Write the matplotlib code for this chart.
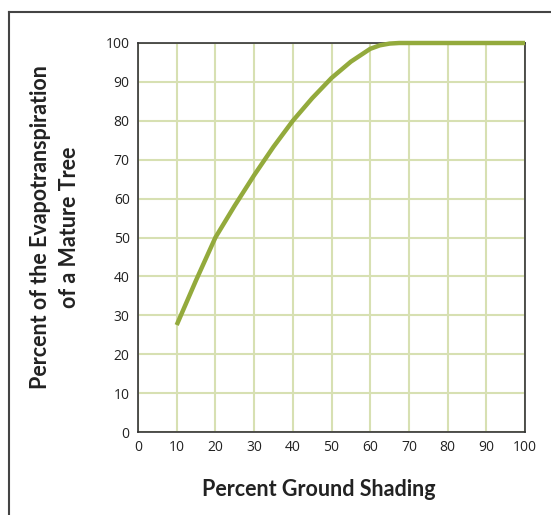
import matplotlib
matplotlib.use("Agg")
import matplotlib.pyplot as plt
from matplotlib.lines import Line2D

shading = [10, 15, 20, 25, 30, 35, 40, 45, 50, 55, 60, 62.5, 65, 67.5, 70, 80, 90, 100]
evapo = [27.5, 39, 50, 58.2, 66, 73.3, 80, 85.8, 91, 95.2, 98.5, 99.4, 99.85, 100, 100, 100, 100, 100]
xticks = list(range(0, 101, 10))
yticks = list(range(0, 101, 10))

plt.rcParams['font.family'] = ['Open Sans', 'DejaVu Sans']

fig = plt.figure(figsize=(5.51, 5.15), dpi=100)
ax = fig.add_axes([138/551, 1-432/515, (525-138)/551, (432-43)/515])

ax.plot(shading, evapo, color='#93aa3c', lw=3.2, solid_capstyle='butt', solid_joinstyle='round',
        zorder=3, clip_on=False)
ax.set_xlim(0, 100)
ax.set_ylim(0, 100)
ax.set_xticks(xticks)
ax.set_yticks(yticks)
ax.grid(True, color='#d7e0b2', lw=1.5, zorder=0)
ax.set_axisbelow(True)
ax.tick_params(length=0, labelsize=10, colors='#222222', pad=6)
for s in ax.spines.values():
    s.set_color('#333333')
    s.set_linewidth(1.2)

ax.set_xlabel('Percent Ground Shading', fontsize=15.5, fontweight='bold', color='#222222',
              family=['Lato', 'DejaVu Sans'])
ax.xaxis.set_label_coords((319-138)/387, -(490-432)/389)
ax.xaxis.label.set_va('center')
fig.text(55/551, 1-227/515, 'Percent of the Evapotranspiration\nof a Mature Tree', rotation=90,
         ha='center', va='center', fontsize=15.5, fontweight='bold', color='#222222',
         multialignment='center', linespacing=1.45, family=['Lato', 'DejaVu Sans'])

fig.add_artist(Line2D([9/551, 9/551], [0, 1-12/515], color='#444444', lw=1.5, transform=fig.transFigure))
fig.add_artist(Line2D([9/551, 1], [1-12/515, 1-12/515], color='#444444', lw=1.5, transform=fig.transFigure))

fig.savefig('out.png', dpi=100)
